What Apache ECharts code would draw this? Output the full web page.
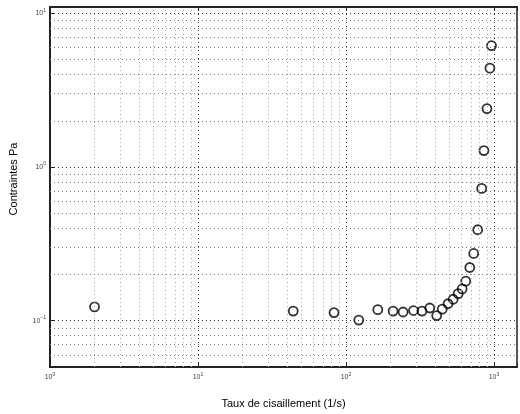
<!DOCTYPE html>
<html>
<head>
<meta charset="utf-8">
<script src="https://cdn.jsdelivr.net/npm/echarts@6/dist/echarts.min.js"></script>
<style>
  html, body { margin: 0; padding: 0; background: #fff; }
  #chart { width: 520px; height: 414px; }
</style>
</head>
<body>
<div id="chart"></div>
<script>
// taux de cisaillement (1/s) et contraintes (Pa)
var shearRate = [2, 44, 83, 122, 164, 208, 243, 286, 326, 368, 410, 447, 489, 530, 573, 609, 644, 686, 729, 776, 825, 855, 896, 938, 962];
var stress = [0.123, 0.1155, 0.113, 0.101, 0.118, 0.1155, 0.114, 0.1165, 0.1155, 0.121, 0.108, 0.119, 0.129, 0.138, 0.150, 0.161, 0.181, 0.222, 0.274, 0.391, 0.726, 1.28, 2.40, 4.40, 6.17];

// limites des axes
var xLimits = [1, 1430];
var yLimits = [0.05, 11];
// décades utilisées pour la grille
var xDecades = [1, 10, 100, 1000];
var yDecades = [0.01, 0.1, 1, 10];

function gridValues(decades, lim) {
    var major = [], minor = [];
    decades.forEach(function (d) {
        for (var k = 1; k <= 9; k++) {
            var v = +(d * k).toPrecision(6);
            if (v <= lim[0] || v >= lim[1]) continue;
            (k === 1 ? major : minor).push(v);
        }
    });
    return { major: major, minor: minor };
}
var xg = gridValues(xDecades, xLimits);
var yg = gridValues(yDecades, yLimits);

function lines(key, vals, color) {
    return vals.map(function (v) {
        var o = { lineStyle: { color: color, width: 1, type: [1, 3] } };
        o[key] = v;
        return o;
    });
}

function powLabel(value) {
    var l = Math.log10(value);
    var e = Math.round(l);
    if (Math.abs(l - e) > 1e-6) return '';
    return '{b|10}{e|' + (e < 0 ? '\u2212' : '') + Math.abs(e) + '}';
}

var labelRich = {
    b: { fontSize: 7, color: '#444', fontFamily: 'Liberation Sans' },
    e: { fontSize: 5, color: '#444', fontFamily: 'Liberation Sans', verticalAlign: 'top', padding: [0, 0, 6, 0] }
};

var myChart = echarts.init(document.getElementById('chart'));
var option = {
    animation: false,
    backgroundColor: '#fff',
    grid: {
        left: 46, right: 2, top: 7, bottom: 43,
        show: true,
        borderColor: '#222',
        borderWidth: 1.5
    },
    xAxis: [{
        type: 'log',
        logBase: 10,
        min: xLimits[0],
        max: xLimits[1],
        splitNumber: 3,
        name: 'Taux de cisaillement (1/s)',
        nameLocation: 'middle',
        nameGap: 31,
        nameTextStyle: { fontSize: 11, color: '#000', fontFamily: 'Liberation Sans' },
        axisLine: { lineStyle: { color: '#222', width: 2 } },
        axisTick: { inside: true, length: 4, lineStyle: { color: '#222' } },
        axisLabel: { formatter: powLabel, rich: labelRich, margin: 5 },
        splitLine: { show: false }
    }, {
        type: 'log',
        logBase: 10,
        position: 'top',
        min: xLimits[0],
        max: xLimits[1],
        splitNumber: 3,
        axisLine: { lineStyle: { color: '#222', width: 2 } },
        axisTick: { inside: true, length: 4, lineStyle: { color: '#222' } },
        axisLabel: { show: false },
        splitLine: { show: false }
    }],
    yAxis: {
        type: 'log',
        logBase: 10,
        min: yLimits[0],
        max: yLimits[1],
        splitNumber: 3,
        name: 'Contraintes Pa',
        nameLocation: 'middle',
        nameGap: 31,
        nameTextStyle: { fontSize: 11, color: '#000', fontFamily: 'Liberation Sans', padding: [0, 0, 0, 16] },
        axisLine: { lineStyle: { color: '#222', width: 2 } },
        axisTick: { inside: true, length: 4, lineStyle: { color: '#222' } },
        axisLabel: { formatter: powLabel, rich: labelRich, margin: 4 },
        splitLine: { show: false }
    },
    series: [{
        // grille majeure et mineure
        type: 'scatter',
        data: [],
        z: 1,
        silent: true,
        markLine: {
            silent: true,
            symbol: 'none',
            label: { show: false },
            animation: false,
            data: [].concat(
                lines('xAxis', xg.minor, '#aaa'),
                lines('yAxis', yg.minor, '#777'),
                lines('xAxis', xg.major, '#333'),
                lines('yAxis', yg.major, '#333')
            )
        }
    }, {
        type: 'scatter',
        z: 3,
        data: shearRate.map(function (x, i) { return [x, stress[i]]; }),
        symbol: 'circle',
        symbolSize: 9,
        itemStyle: { color: 'rgba(255,255,255,0)', borderColor: '#000', borderWidth: 1.8 }
    }]
};
myChart.setOption(option);
</script>
</body>
</html>
